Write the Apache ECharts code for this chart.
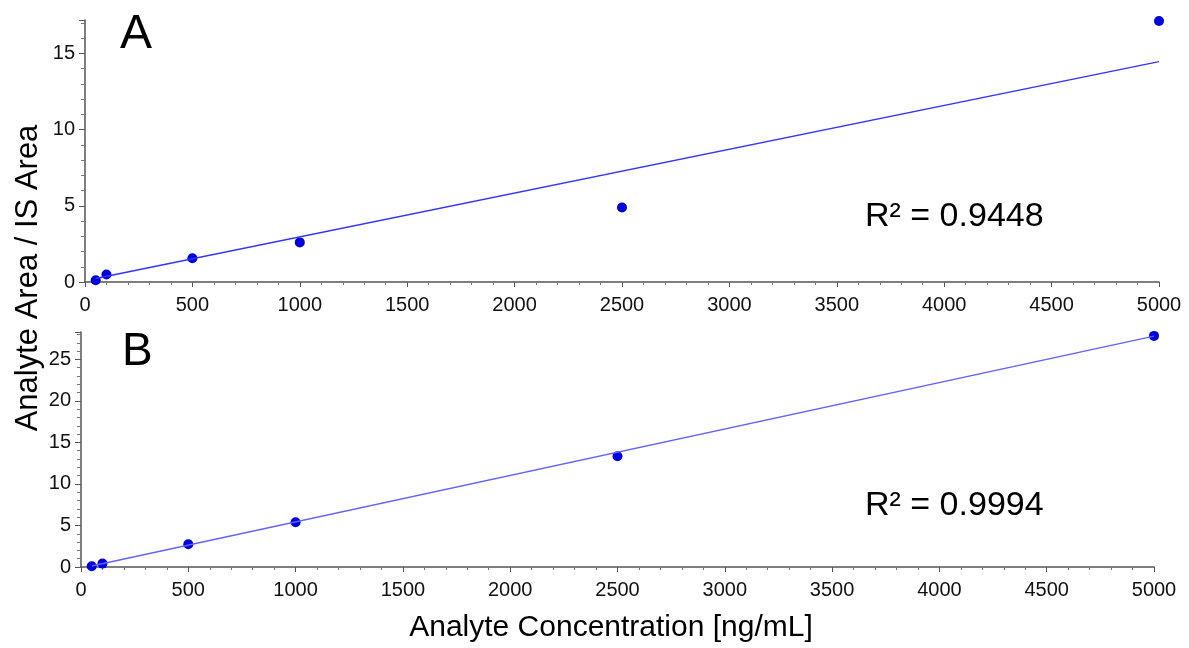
<!DOCTYPE html>
<html>
<head>
<meta charset="utf-8">
<script src="https://cdn.jsdelivr.net/npm/echarts@6/dist/echarts.min.js"></script>
<style>
html,body{margin:0;padding:0;background:#fff;}
#c{width:1189px;height:648px;}
</style>
</head>
<body>
<div id="c"></div>
<script>
// Panel A: calibration points (concentration, area ratio)
const concA = [50, 100, 500, 1000, 2500, 5000];
const ratioA = [0.12, 0.49, 1.56, 2.6, 4.89, 17.13];
// Panel A regression line endpoints
const fitA = [[50, 0.23], [5000, 14.47]];
// Panel B
const concB = [50, 100, 500, 1000, 2500, 5000];
const ratioB = [0.1, 0.41, 2.73, 5.39, 13.34, 27.83];
const fitB = [[50, 0.12], [5000, 27.8]];
const r2A = '0.9448';
const r2B = '0.9994';
const panelLabels = ['A', 'B'];
const xTitle = 'Analyte Concentration [ng/mL]';
const yTitle = 'Analyte Area / IS Area';

const font = '"Liberation Sans", Arial, sans-serif';
const pts = (xs, ys) => xs.map((x, i) => [x, ys[i]]);
const plain = v => String(v);

function xAxisCfg(gi) {
  return {
    type: 'value', gridIndex: gi, min: 0, max: 5000, interval: 500,
    axisLine: {show: true, onZero: false, lineStyle: {color: '#555', width: 1.5}},
    axisTick: {show: true, length: 5, lineStyle: {color: '#555'}},
    minorTick: {show: true, splitNumber: 5, length: 3, lineStyle: {color: '#777'}},
    splitLine: {show: false},
    axisLabel: {color: '#111', fontSize: 20, fontFamily: font, margin: 13, formatter: plain}
  };
}
function yAxisCfg(gi, max) {
  return {
    type: 'value', gridIndex: gi, min: 0, max: max, interval: 5,
    axisLine: {show: true, onZero: false, lineStyle: {color: '#555', width: 1.5}},
    axisTick: {show: true, length: 6, lineStyle: {color: '#555'}},
    minorTick: {show: true, splitNumber: 5, length: 4, lineStyle: {color: '#777'}},
    splitLine: {show: false},
    axisLabel: {color: '#111', fontSize: 20, fontFamily: font, margin: 10, formatter: plain,
                showMaxLabel: false}
  };
}

const chart = echarts.init(document.getElementById('c'), null, {renderer: 'canvas'});
chart.setOption({
  animation: false,
  backgroundColor: '#fff',
  grid: [
    {left: 85, right: 30, top: 20, bottom: 366},
    {left: 81, right: 35, top: 332, bottom: 81}
  ],
  xAxis: [xAxisCfg(0), xAxisCfg(1)],
  yAxis: [yAxisCfg(0, 17.2), yAxisCfg(1, 28.3)],
  series: [
    {type: 'line', xAxisIndex: 0, yAxisIndex: 0, data: fitA, showSymbol: false,
     lineStyle: {color: '#3333ff', width: 1.4}, silent: true},
    {type: 'scatter', xAxisIndex: 0, yAxisIndex: 0, data: pts(concA, ratioA),
     symbolSize: 10, itemStyle: {color: '#0000dd', opacity: 1}},
    {type: 'line', xAxisIndex: 1, yAxisIndex: 1, data: fitB, showSymbol: false,
     lineStyle: {color: '#6262ff', width: 1.4}, silent: true},
    {type: 'scatter', xAxisIndex: 1, yAxisIndex: 1, data: pts(concB, ratioB),
     symbolSize: 10, itemStyle: {color: '#0000dd', opacity: 1}}
  ],
  graphic: [
    {type: 'text', x: 120, y: 35, style: {text: panelLabels[0], font: '48px ' + font, fill: '#000', align: 'left', verticalAlign: 'middle'}},
    {type: 'text', x: 122, y: 352, style: {text: panelLabels[1], font: '46px ' + font, fill: '#000', align: 'left', verticalAlign: 'middle'}},
    {type: 'text', x: 865, y: 217, style: {text: 'R² = ' + r2A, font: '34px ' + font, fill: '#000', align: 'left', verticalAlign: 'middle'}},
    {type: 'text', x: 865, y: 506, style: {text: 'R² = ' + r2B, font: '34px ' + font, fill: '#000', align: 'left', verticalAlign: 'middle'}},
    {type: 'text', x: 611, y: 628, style: {text: xTitle, font: '30px ' + font, fill: '#000', align: 'center', verticalAlign: 'middle'}},
    {type: 'text', x: 28, y: 278, rotation: Math.PI / 2, style: {text: yTitle, font: '31px ' + font, fill: '#000', align: 'center', verticalAlign: 'middle'}}
  ]
});
</script>
</body>
</html>
